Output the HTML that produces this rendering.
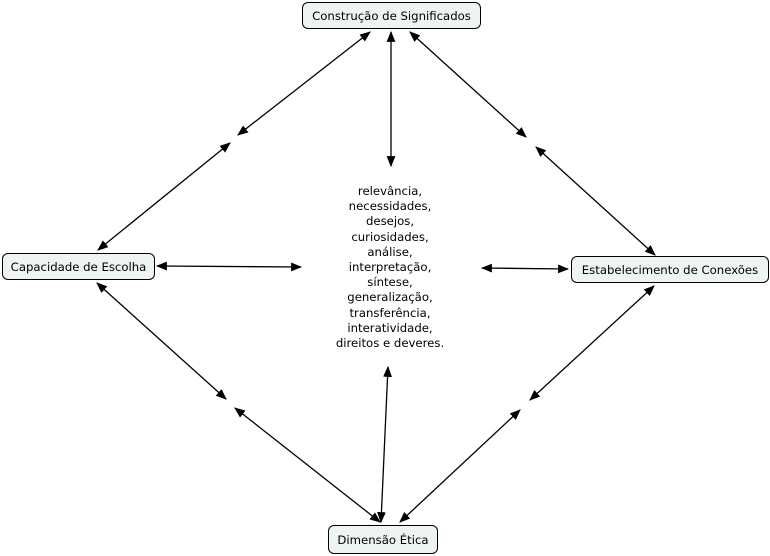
<!DOCTYPE html>
<html><head><meta charset="utf-8"><style>
body{margin:0;width:770px;height:556px;background:#fff;position:relative;overflow:hidden;font-family:"DejaVu Sans","Liberation Sans",sans-serif;font-size:11.7px;color:#000}
.b{position:absolute;background:#eef3f3;border:1px solid #000;border-radius:6px;box-sizing:border-box;display:flex;align-items:center;justify-content:center;white-space:nowrap}
.c{position:absolute;left:290px;width:200px;top:184px;text-align:center;line-height:15.2px}
svg{position:absolute;left:0;top:0}
</style></head><body>
<svg width="770" height="556">
<defs><marker id="a" viewBox="0 0 10 10" refX="9" refY="5" markerWidth="11" markerHeight="11" markerUnits="userSpaceOnUse" orient="auto-start-reverse"><path d="M0,1 L10,5 L0,9z"/></marker></defs>
<g stroke="#000" stroke-width="1.3" marker-start="url(#a)" marker-end="url(#a)">
<line x1="370" y1="32" x2="238" y2="135"/>
<line x1="230" y1="143" x2="98" y2="250"/>
<line x1="391" y1="32" x2="391" y2="166"/>
<line x1="410" y1="32" x2="526" y2="137"/>
<line x1="536" y1="147" x2="655" y2="255"/>
<line x1="157" y1="266" x2="301" y2="267"/>
<line x1="482" y1="268" x2="568" y2="269"/>
<line x1="97" y1="283" x2="226" y2="399"/>
<line x1="235" y1="408" x2="380" y2="522"/>
<line x1="388" y1="367" x2="381" y2="522"/>
<line x1="654" y1="286" x2="530" y2="400"/>
<line x1="520" y1="410" x2="400" y2="522"/>
</g></svg>
<div class="b" style="left:302px;top:2px;width:179px;height:27px">Construção de Significados</div>
<div class="b" style="left:2px;top:253px;width:153px;height:27px">Capacidade de Escolha</div>
<div class="b" style="left:571px;top:256px;width:198px;height:27px">Estabelecimento de Conexões</div>
<div class="b" style="left:328px;top:525px;width:110px;height:29px">Dimensão Ética</div>
<div class="c">relevância,<br>necessidades,<br>desejos,<br>curiosidades,<br>análise,<br>interpretação,<br>síntese,<br>generalização,<br>transferência,<br>interatividade,<br>direitos e deveres.</div>
</body></html>
